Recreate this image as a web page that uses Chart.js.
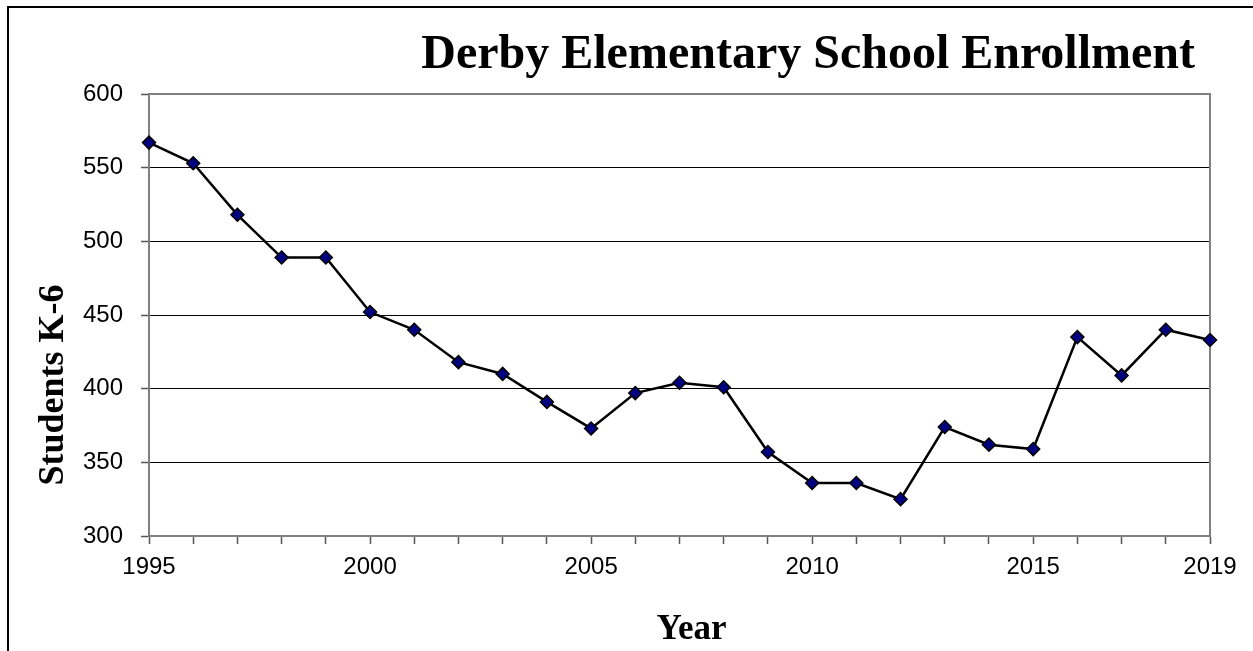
<!DOCTYPE html>
<html>
<head>
<meta charset="utf-8">
<script src="https://cdn.jsdelivr.net/npm/chart.js@4/dist/chart.umd.min.js"></script>
<style>
    body { margin: 0; background: #fff; }
    canvas { display: block; }
</style>
</head>
<body>
<canvas id="enrollChart" width="1253" height="651"></canvas>
<script>
const years = ["1995", "1996", "1997", "1998", "1999", "2000", "2001", "2002", "2003", "2004",
    "2005", "2006", "2007", "2008", "2009", "2010", "2011", "2012", "2013", "2014",
    "2015", "2016", "2017", "2018", "2019"];
const students = [567, 553, 518, 489, 489, 452, 440, 418, 410, 391,
    373, 397, 404, 401, 357, 336, 336, 325, 374, 362,
    359, 435, 409, 440, 433];
const yTicks = [300, 350, 400, 450, 500, 550, 600];
const labelYears = ["1995", "2000", "2005", "2010", "2015", "2019"];

const chartTitle = "Derby Elementary School Enrollment";
const xTitle = "Year";
const yTitle = "Students K-6";

// frame, outer border and the titles are painted by hand
const framePlugin = {
    id: "frame",
    beforeDraw(chart) {
        const ctx = chart.ctx;
        ctx.save();
        ctx.fillStyle = "#fff";
        ctx.fillRect(0, 0, chart.width, chart.height);
        ctx.strokeStyle = "#000";
        ctx.lineWidth = 2;
        ctx.strokeRect(8, 7, chart.width + 50, chart.height + 50);
        ctx.restore();
    },
    beforeDatasetsDraw(chart) {
        const a = chart.chartArea;
        const ctx = chart.ctx;
        ctx.save();
        ctx.strokeStyle = "#808080";
        ctx.lineWidth = 2;
        ctx.strokeRect(a.left, a.top, a.right - a.left, a.bottom - a.top);
        ctx.restore();
    },
    afterDraw(chart) {
        const a = chart.chartArea;
        const ctx = chart.ctx;
        ctx.save();
        ctx.fillStyle = "#000";
        ctx.textBaseline = "alphabetic";

        ctx.font = 'bold 48px "Liberation Serif", "Times New Roman", serif';
        ctx.textAlign = "right";
        ctx.fillText(chartTitle, a.right - 15, a.top - 26);

        ctx.font = 'bold 35px "Liberation Serif", "Times New Roman", serif';
        ctx.textAlign = "center";
        ctx.fillText(xTitle, (a.left + a.right) / 2 + 12, 639);

        ctx.font = 'bold 36px "Liberation Serif", "Times New Roman", serif';
        ctx.translate(63, 385);
        ctx.rotate(-Math.PI / 2);
        ctx.fillText(yTitle, 0, 0);
        ctx.restore();
    }
};

const tickFont = { family: '"Liberation Sans", Arial, sans-serif', size: 24 };

new Chart(document.getElementById("enrollChart"), {
    type: "line",
    data: {
        labels: years,
        datasets: [{
            data: students,
            borderColor: "#000",
            borderWidth: 2.5,
            tension: 0,
            pointStyle: "rectRot",
            pointRadius: 6.5,
            pointBackgroundColor: "#000080",
            pointBorderColor: "#000",
            pointBorderWidth: 1.5
        }]
    },
    options: {
        responsive: false,
        animation: false,
        layout: { padding: { left: 0, right: 43, top: 94, bottom: 0 } },
        plugins: {
            legend: { display: false },
            tooltip: { enabled: false },
            title: { display: false }
        },
        scales: {
            x: {
                type: "category",
                offset: false,
                afterFit(scale) { scale.height = 115; },
                grid: {
                    drawOnChartArea: false,
                    drawTicks: true,
                    tickLength: 8,
                    tickColor: "#555",
                    tickWidth: 1.5
                },
                border: { color: "#808080", width: 2 },
                ticks: {
                    autoSkip: false,
                    maxRotation: 0,
                    padding: 9,
                    color: "#000",
                    font: tickFont,
                    callback(value, index) {
                        const y = years[index];
                        return labelYears.includes(y) ? y : "";
                    }
                }
            },
            y: {
                min: yTicks[0],
                max: yTicks[yTicks.length - 1],
                afterFit(scale) { scale.width = 149; },
                afterBuildTicks(scale) {
                    scale.ticks = yTicks.map(v => ({ value: v }));
                },
                grid: {
                    color: ctx => (ctx.tick && (ctx.tick.value === 600 || ctx.tick.value === 300)) ? "rgba(0,0,0,0)" : "#000",
                    lineWidth: 1,
                    drawTicks: true,
                    tickLength: 8,
                    tickColor: "#555",
                    tickWidth: 1.5
                },
                border: { color: "#808080", width: 2 },
                ticks: {
                    padding: 18,
                    color: "#000",
                    font: tickFont
                }
            }
        }
    },
    plugins: [framePlugin]
});
</script>
</body>
</html>
